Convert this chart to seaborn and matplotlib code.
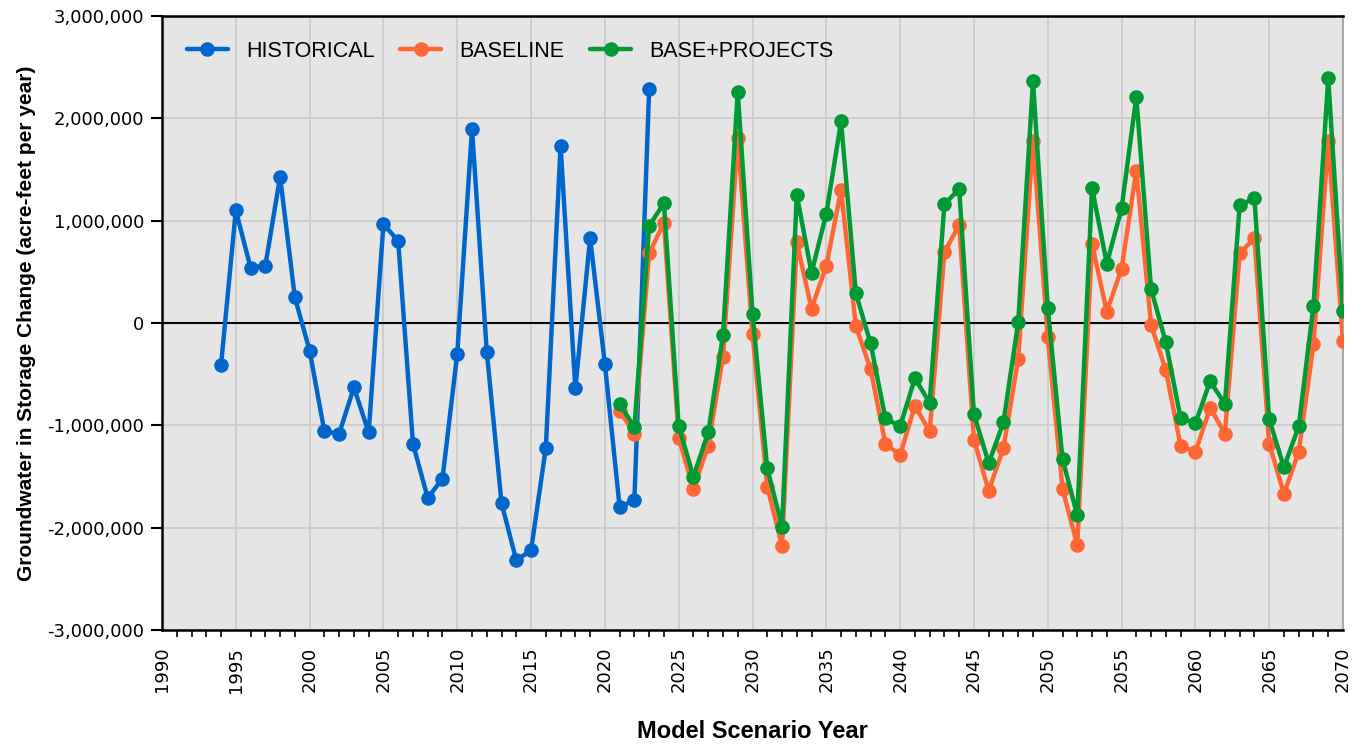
import numpy as np
import pandas as pd
from matplotlib import pyplot as plt
from matplotlib.ticker import FuncFormatter, MultipleLocator
import seaborn as sns

# values (acre-feet per year)
hist_years = list(range(1994, 2024))
hist_vals = [-410000, 1100000, 540000, 560000, 1430000, 250000, -270000, -1060000,
             -1080000, -630000, -1070000, 970000, 800000, -1180000, -1710000,
             -1520000, -300000, 1900000, -280000, -1760000, -2320000, -2220000,
             -1220000, 1730000, -640000, 830000, -400000, -1800000, -1730000, 2290000]

proj_years = list(range(2021, 2071))
base_vals = [-860000, -1080000, 680000, 980000, -1120000, -1620000, -1200000, -330000,
             1810000, -110000, -1600000, -2180000, 790000, 140000, 560000, 1300000,
             -30000, -450000, -1180000, -1290000, -810000, -1060000, 690000, 960000,
             -1140000, -1640000, -1220000, -350000, 1780000, -140000, -1620000,
             -2170000, 770000, 110000, 530000, 1490000, -20000, -460000, -1200000,
             -1260000, -830000, -1080000, 680000, 830000, -1180000, -1670000,
             -1260000, -210000, 1780000, -180000]
proj_vals = [-790000, -1020000, 950000, 1170000, -1010000, -1500000, -1070000, -120000,
             2260000, 90000, -1420000, -1990000, 1250000, 490000, 1070000, 1970000,
             290000, -200000, -930000, -1010000, -540000, -780000, 1160000, 1310000,
             -890000, -1370000, -970000, 10000, 2360000, 150000, -1330000, -1880000,
             1320000, 580000, 1120000, 2210000, 330000, -190000, -930000, -980000,
             -570000, -790000, 1150000, 1220000, -940000, -1410000, -1010000, 170000,
             2390000, 120000]

scenarios = ['HISTORICAL', 'BASELINE', 'BASE+PROJECTS']
colors = ['#0066CC', '#FF6633', '#009933']

df = pd.concat([
    pd.DataFrame({'Year': hist_years, 'Value': hist_vals, 'Scenario': scenarios[0]}),
    pd.DataFrame({'Year': proj_years, 'Value': base_vals, 'Scenario': scenarios[1]}),
    pd.DataFrame({'Year': proj_years, 'Value': proj_vals, 'Scenario': scenarios[2]}),
], ignore_index=True)

sns.set_style('whitegrid', {'axes.facecolor': '#E5E5E5', 'grid.color': '#CCCCCC',
                            'text.color': 'black', 'axes.labelcolor': 'black',
                            'xtick.color': 'black', 'ytick.color': 'black'})
plt.rcParams['font.family'] = ['DejaVu Sans']

fig = plt.figure(figsize=(13.64, 7.46), dpi=100)
ax = fig.add_axes([162 / 1364, 1 - 630 / 746, (1343 - 162) / 1364, (630 - 16) / 746])

ax.axhline(0, color='black', lw=1.5, zorder=1)
sns.lineplot(data=df, x='Year', y='Value', hue='Scenario', hue_order=scenarios,
             palette=colors, marker='o', markersize=10.5, markeredgewidth=0,
             linewidth=3.2, estimator=None, errorbar=None, ax=ax, zorder=3)

ax.set_xlim(1990, 2070)
ax.set_ylim(-3000000, 3000000)
ax.xaxis.set_major_locator(MultipleLocator(5))
ax.xaxis.set_minor_locator(MultipleLocator(1))
ax.yaxis.set_major_locator(MultipleLocator(1000000))
ax.yaxis.set_major_formatter(FuncFormatter(lambda v, p: f'{int(v):,}'))
ax.grid(True, which='major', color='#CCCCCC', lw=1.3)
ax.grid(False, which='minor')

ax.tick_params(axis='x', which='major', length=8, width=1.5, color='black',
               direction='out', labelsize=13, rotation=90, pad=4)
ax.tick_params(axis='x', which='minor', length=5, width=1.2, color='black',
               direction='out', bottom=True)
ax.tick_params(axis='y', which='major', length=8, width=1.5, color='black',
               direction='out', labelsize=13, pad=5, left=True)

for s in ['left', 'bottom', 'top']:
    ax.spines[s].set_color('black')
    ax.spines[s].set_linewidth(1.8)
ax.spines['right'].set_color('#AAAAAA')
ax.spines['right'].set_linewidth(1.5)

lab_font = ['Liberation Sans Narrow', 'Liberation Sans', 'DejaVu Sans']
ax.set_xlabel('Model Scenario Year', fontsize=17, fontweight='bold',
              family=lab_font, labelpad=20)
ax.set_ylabel('Groundwater in Storage Change (acre-feet per year)', fontsize=15,
              fontweight='bold', family=lab_font, labelpad=8)

leg = ax.legend(loc='upper left', ncol=3, frameon=False,
                prop={'family': ['Liberation Sans', 'DejaVu Sans'], 'size': 15.5},
                handlelength=1.9, columnspacing=1.2, handletextpad=0.85,
                bbox_to_anchor=(0.0, 1.0), borderaxespad=0.75)

fig.savefig('out.png', dpi=100)
